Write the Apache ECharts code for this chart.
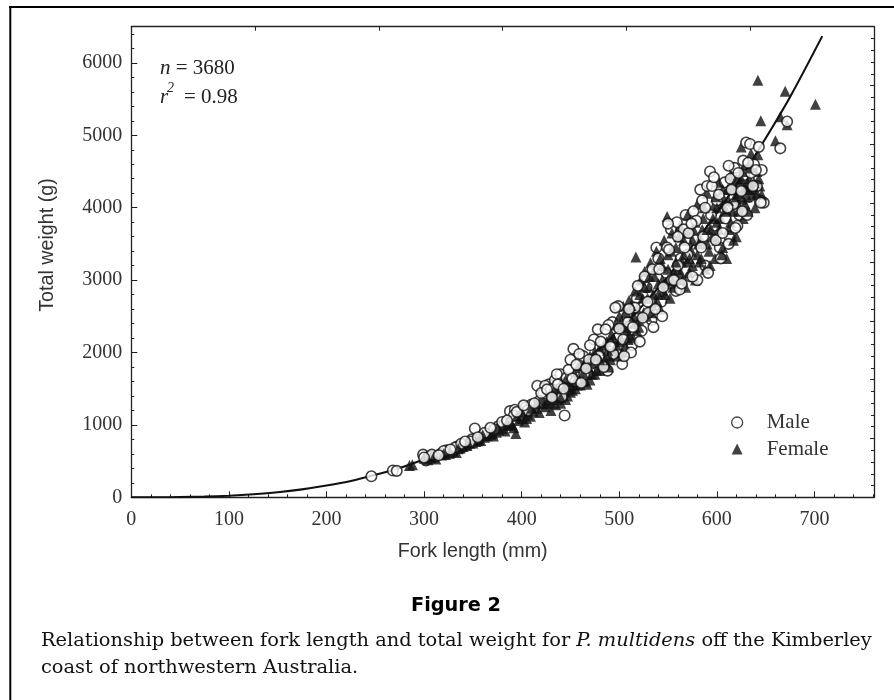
<!DOCTYPE html>
<html><head><meta charset="utf-8">
<style>html,body{margin:0;padding:0;background:#fff}#c{width:894px;height:700px}</style>
<script src="https://cdn.jsdelivr.net/npm/echarts@6/dist/echarts.min.js"></script>
</head><body><div id="c"></div>
<script>
const curveLength=[0,25,50,75,100,125,150,175,200,225,250,275,300,325,350,375,400,425,450,475,500,525,550,575,600,625,650,675,708];
const curveWeight=[0,0,3,9,22,42,70,110,162,225,310,405,526,665,823,1005,1212,1445,1708,1995,2315,2665,3053,3475,3930,4425,4960,5530,6370];
const maleUnder=[[246,290],[268,370],[272,365],[299,590],[302,510],[305,560],[311,560],[317,600],[323,650],[329,620],[334,700],[339,690],[345,730],[352,950],[349,800],[358,830],[364,860],[370,900],[376,980],[382,1000],[388,1190],[393,1210],[398,1120],[404,1240],[410,1280],[416,1540],[422,1430],[428,1560],[434,1620],[440,1700],[444,1130],[449,1530],[453,2050],[458,1700],[463,1950],[468,1700],[473,1850],[478,2320],[483,2000],[488,1750],[493,2420],[498,2200],[503,1840],[508,2500],[513,2100],[518,2750],[523,2300],[528,2900],[533,2450],[538,3450],[543,2700],[548,3100],[553,3700],[558,2850],[563,3300],[568,3900],[573,3050],[578,3550],[583,4250],[588,3200],[593,4500],[598,3750],[603,3450],[608,4350],[613,3600],[618,4550],[623,3900],[628,4450],[633,4150],[638,4600],[644,4100],[648,4070]];
const female=[[285,440],[288,450],[304,520],[307,545],[312,530],[318,585],[322,590],[326,610],[330,640],[333,620],[337,680],[340,700],[344,715],[347,745],[350,750],[353,770],[356,800],[358,785],[362,830],[365,850],[368,870],[371,845],[374,900],[377,930],[380,950],[383,915],[386,990],[389,1020],[392,960],[394,880],[397,1060],[400,1090],[403,1040],[406,1150],[409,1120],[412,1190],[415,1230],[418,1170],[421,1290],[424,1250],[427,1340],[430,1300],[433,1400],[436,1350],[439,1460],[442,1420],[445,1530],[447,1400],[450,1600],[452,1480],[455,1680],[457,1550],[460,1790],[462,1620],[465,1850],[467,1560],[470,1950],[472,1700],[475,2010],[477,1760],[480,2060],[482,1830],[485,1920],[487,2150],[489,1800],[492,2250],[494,2010],[496,2380],[498,1950],[500,2500],[502,2180],[504,2640],[506,2100],[508,2300],[510,2720],[512,2450],[514,2200],[516,2850],[517,3320],[518,2600],[520,2350],[522,3000],[524,2750],[526,3120],[528,2500],[530,2900],[532,3240],[534,2650],[536,3050],[538,3400],[540,2800],[542,2600],[544,3200],[546,3550],[548,2950],[549,3880],[550,3350],[552,2750],[554,3650],[556,3100],[558,3450],[560,2950],[562,3750],[564,3250],[566,3550],[568,2900],[570,3900],[572,3100],[574,3400],[576,3700],[578,3000],[580,4050],[582,3250],[584,3550],[586,3850],[588,3150],[590,4200],[592,3400],[594,3700],[596,4000],[598,3300],[600,3550],[602,4350],[604,3850],[606,3450],[608,4100],[610,3300],[612,3700],[614,4450],[616,3950],[618,4250],[620,3600],[622,4050],[624,4350],[625,4840],[627,3850],[629,4600],[631,4150],[633,4400],[635,4750],[637,4250],[639,4000],[641,4500],[642,4730],[644,4300],[646,4180],[642,5760],[670,5610],[701,5430],[645,5200],[665,5255],[672,5145],[660,4925],[628,4280],[622,4200],[632,4330],[618,4130],[626,4120],[636,4180],[615,4320],[610,3950],[605,4050],[600,3800],[595,3600],[590,3500],[585,3700],[580,3350],[575,3200],[570,3250],[565,3000],[560,3150],[555,2900],[550,3000],[545,2850],[540,2950],[535,2800],[530,2600],[525,2550],[520,2450],[515,2400],[510,2250],[505,2350],[500,2150],[495,2050],[490,1950],[485,1850],[480,1750],[475,1700],[470,1620],[465,1600],[460,1550],[455,1500],[450,1450],[445,1350],[440,1300],[435,1280],[430,1200]];
const maleMid=[[308,590],[320,640],[332,690],[338,740],[348,770],[362,890],[372,940],[380,1040],[392,1130],[406,1200],[418,1330],[424,1540],[430,1490],[436,1700],[441,1390],[446,1650],[450,1900],[455,1600],[459,1980],[464,1700],[469,1900],[474,2180],[479,1950],[484,1800],[489,2380],[494,1980],[499,2640],[504,2180],[509,2420],[512,2000],[516,2620],[521,2150],[526,3050],[531,2700],[535,2350],[540,3300],[544,2500],[549,3450],[554,3000],[559,3800],[562,2870],[566,3700],[570,3350],[576,3950],[580,3000],[586,3600],[590,4300],[594,3900],[600,4100],[604,3300],[609,3850],[614,4400],[617,4050],[621,3750],[627,4650],[631,3900],[635,4480],[641,4300],[646,4520],[612,3500],[585,4100],[560,3200],[530,2550]];
const femaleTop=[[300,540],[310,560],[320,600],[335,670],[345,760],[355,780],[360,860],[370,880],[375,950],[385,1030],[390,1000],[395,1120],[400,1180],[405,1090],[410,1230],[415,1300],[420,1350],[425,1300],[430,1450],[435,1500],[440,1380],[445,1620],[450,1550],[455,1600],[458,1820],[463,1720],[468,1800],[472,1860],[476,1950],[480,1900],[484,2100],[488,2030],[491,1900],[494,2200],[497,2100],[501,2400],[503,2000],[507,2550],[509,2180],[512,2650],[515,2500],[518,2300],[521,2800],[523,2500],[526,2900],[529,2750],[531,3050],[533,2550],[536,3150],[539,2700],[542,3300],[544,3000],[547,2800],[550,3150],[553,3400],[555,3000],[558,3250],[561,3600],[563,3100],[566,3350],[569,3650],[572,3300],[575,3550],[578,3800],[581,3500],[584,3300],[587,4000],[590,3700],[593,3200],[596,3850],[599,4150],[602,3700],[605,3350],[608,3950],[611,4250],[614,3800],[617,3550],[620,4400],[623,3950],[626,4500],[629,4050],[632,3950],[635,4550],[638,4350],[641,4200],[643,4400],[630,4250],[625,4400],[620,4150],[635,4300],[612,4100],[606,4250],[600,4000]];
const maleOver=[[300,550],[315,580],[327,660],[342,770],[355,830],[368,960],[385,1060],[395,1180],[402,1270],[413,1300],[420,1440],[426,1490],[431,1380],[437,1560],[443,1500],[448,1760],[452,1640],[456,1830],[461,1580],[466,1780],[470,2100],[476,1900],[481,2150],[486,2320],[491,2080],[496,2620],[500,2330],[505,1950],[510,2600],[514,2350],[519,2920],[524,2480],[529,2700],[534,3150],[537,2600],[541,3150],[545,2900],[551,3420],[556,3000],[560,3600],[564,2950],[567,3450],[571,3650],[575,3050],[579,3820],[584,3450],[588,4000],[591,3100],[595,4300],[599,3550],[602,4180],[606,3650],[611,4000],[615,4250],[619,3720],[622,4480],[626,3950],[630,4900],[634,4880],[643,4840],[637,4300],[632,4620],[640,4520],[645,4070],[665,4820],[672,5190],[625,4230],[612,4580],[597,4420],[574,3780],[550,3780]];
const chart=echarts.init(document.getElementById('c'));
const SERIF='"Liberation Serif",serif',SANS='"Liberation Sans",Arial,sans-serif';
const tickLine={show:true,inside:true,length:6,lineStyle:{color:'#222',width:1}};
const minor={show:true,length:3,lineStyle:{color:'#222',width:1}};
const axLine={show:true,onZero:false,lineStyle:{color:'#222',width:1.3}};
const circle={symbol:'circle',symbolSize:10.5,itemStyle:{color:'#fff',borderColor:'#111',borderWidth:1.6}};
const tri={symbol:'triangle',symbolSize:11,itemStyle:{color:'#111',borderWidth:0}};
const plain=t=>({fontFamily:SERIF,fontSize:t,color:'#333'});
const raw=v=>String(v);
chart.setOption({
 animation:false,backgroundColor:'#fff',
 grid:{left:131.3,right:20,top:26.7,bottom:202.7,containLabel:false},
 legend:{left:726,top:407,orient:'vertical',itemWidth:11,itemHeight:11,itemGap:5.5,data:[{name:'Male',icon:'circle',itemStyle:{color:'#fff',borderColor:'#111',borderWidth:1.3}},{name:'Female',icon:'triangle',itemStyle:{color:'#111'}}],textStyle:{color:'#333',fontFamily:SERIF,fontSize:21,padding:[0,0,0,19]},selectedMode:false},
 xAxis:[
  {type:'value',min:0,max:761,interval:100,position:'bottom',splitLine:{show:false},axisLine:axLine,axisTick:tickLine,minorTick:{...minor,splitNumber:5},
   axisLabel:{...plain(20),margin:12,showMaxLabel:false,formatter:raw},name:'Fork length (mm)',nameLocation:'middle',nameGap:44,nameTextStyle:{fontFamily:SANS,fontSize:19.7,color:'#333',padding:[0,60,0,0]}},
  {type:'value',min:0,max:6,interval:1,position:'top',splitLine:{show:false},axisLine:axLine,axisTick:{...tickLine,length:4},axisLabel:{show:false}}
 ],
 yAxis:[
  {type:'value',min:0,max:6500,interval:1000,position:'left',splitLine:{show:false},axisLine:axLine,axisTick:tickLine,minorTick:{...minor,splitNumber:5},
   axisLabel:{...plain(20),margin:9,showMaxLabel:false,formatter:raw},name:'Total weight (g)',nameLocation:'middle',nameGap:74,nameRotate:90,nameTextStyle:{fontFamily:SANS,fontSize:19.7,color:'#333',padding:[0,0,0,34]}},
  {type:'value',min:0,max:8,interval:1,position:'right',splitLine:{show:false},axisLine:axLine,axisTick:{...tickLine,length:4},minorTick:{...minor,splitNumber:5},axisLabel:{show:false}}
 ],
 graphic:[
  {type:'line',shape:{x1:9,y1:7,x2:894,y2:7},style:{stroke:'#000',lineWidth:2}},
  {type:'line',shape:{x1:10.3,y1:6,x2:10.3,y2:700},style:{stroke:'#000',lineWidth:2}},
  {type:'text',left:160,top:58,style:{text:'{i|n} = 3680',rich:{i:{fontStyle:'italic',fontFamily:SERIF,fontSize:21,fill:'#222'}},font:'21px "Liberation Serif"',fill:'#222'}},
  {type:'text',left:160,top:87,style:{text:'{i|r}',rich:{i:{fontStyle:'italic',fontFamily:SERIF,fontSize:21,fill:'#222'}},font:'21px "Liberation Serif"',fill:'#222'}},
  {type:'text',left:167,top:81,style:{text:'2',font:'italic 14px "Liberation Serif"',fill:'#222'}},
  {type:'text',left:184,top:87,style:{text:'= 0.98',font:'21px "Liberation Serif"',fill:'#222'}},
  {type:'text',left:411,top:596,style:{text:'Figure 2',font:'bold 19.3px "DejaVu Sans"',fill:'#000'}},
  {type:'text',left:41,top:631,style:{text:'Relationship between fork length and total weight for {i|P. multidens} off the Kimberley',font:'19.4px "DejaVu Serif"',fill:'#111',rich:{i:{fontStyle:'italic',fontFamily:'"DejaVu Serif"',fontSize:19.4,fill:'#111'}}}},
  {type:'text',left:41,top:658,style:{text:'coast of northwestern Australia.',font:'19.4px "DejaVu Serif"',fill:'#111'}}
 ],
 series:[
  {type:'line',name:'Fit',data:curveLength.map((x,i)=>[x,curveWeight[i]]),smooth:0.3,showSymbol:false,symbol:'none',lineStyle:{color:'#111',width:2.1},z:1},
  {type:'scatter',name:'Male',data:maleUnder,...circle,z:2},
  {type:'scatter',name:'Female',data:female,...tri,z:3},
  {type:'scatter',name:'Male',data:maleMid,...circle,z:4},
  {type:'scatter',name:'Female',data:femaleTop,...tri,z:5},
  {type:'scatter',name:'Male',data:maleOver,...circle,z:6}
 ]
});
</script></body></html>
